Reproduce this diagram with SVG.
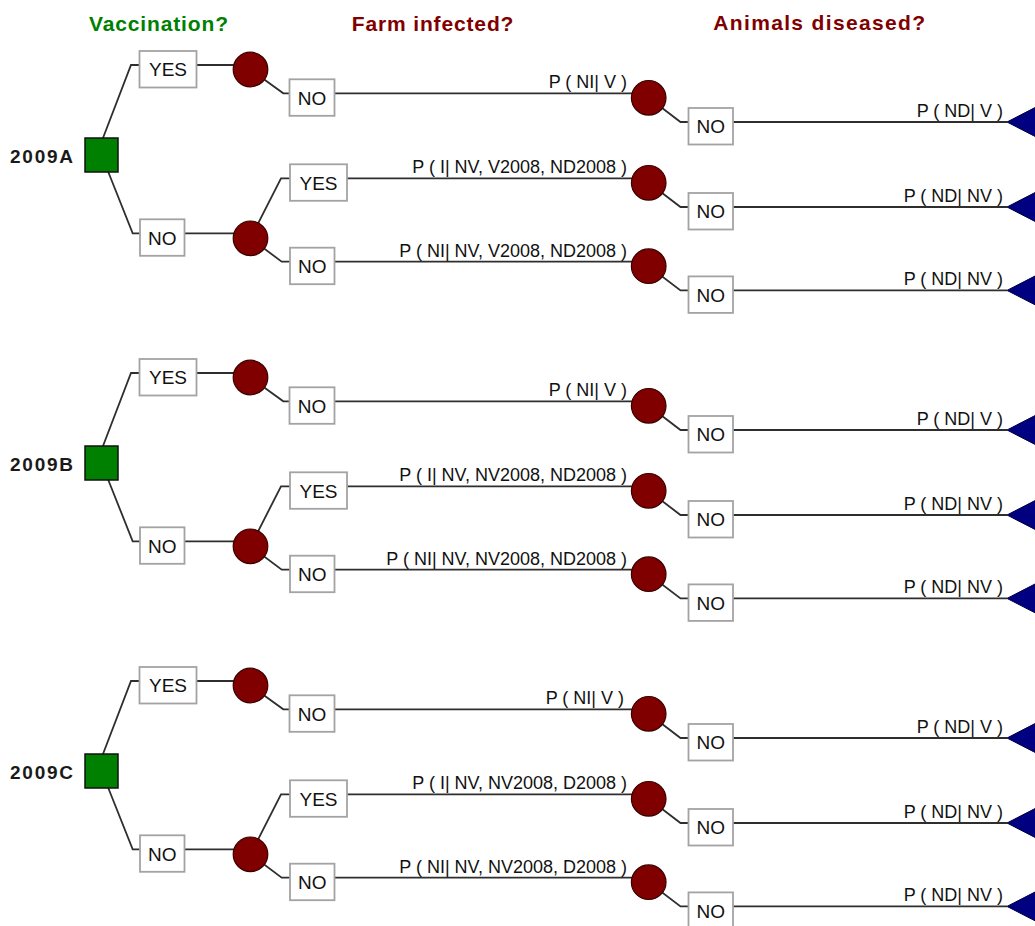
<svg xmlns="http://www.w3.org/2000/svg" width="1035" height="926" viewBox="0 0 1035 926">
<style>
.ln{fill:none;stroke:#2e2e2e;stroke-width:1.8}
.box{fill:#fff;stroke:#a3a3a3;stroke-width:1.8}
.bt{font-family:"Liberation Sans",Arial,sans-serif;font-size:19px;text-anchor:middle;fill:#111}
.pl{font-family:"Liberation Sans",Arial,sans-serif;font-size:18px;text-anchor:end;fill:#111}
.ch{fill:#800000;stroke:#3a0000;stroke-width:1.2}
.dec{fill:#008000;stroke:#111;stroke-width:1.5}
.term{fill:#000080;stroke:#000040;stroke-width:1}
.hd{font-family:"Liberation Sans",Arial,sans-serif;font-size:21px;font-weight:bold}
.yr{font-family:"Liberation Sans",Arial,sans-serif;font-size:19px;font-weight:bold;fill:#1a1a1a}
</style>
<defs>
<path id="cn" d="M103,138 L131,65 L139.5,65 M108.3,172 L132.7,233.3 L140,233.3 M196.5,65 L245,65 M250.5,69.5 L283.3,93.3 L289.5,93.3 M334.5,93.3 L645,93.3 M648.7,97.8 L680.5,122 L688.5,122 M733,122 L1007,122 M184.5,233.3 L245,233.3 M250.5,238.3 L281,178.3 L290,178.3 M250.5,238.3 L281.7,261.7 L290,261.7 M347,178.3 L645,178.3 M334.5,261.7 L645,261.7 M648.7,182.8 L680.5,207 L688.5,207 M733,207 L1007,207 M648.7,266.2 L680.5,290.4 L688.5,290.4 M733,290.4 L1007,290.4"/>
</defs>
<rect width="1035" height="926" fill="#fff"/>
<g id="headers">
<text class="hd" x="89" y="31" fill="#008000" textLength="139" lengthAdjust="spacing">Vaccination?</text>
<text class="hd" x="351.7" y="30.7" fill="#800000" textLength="161.7" lengthAdjust="spacing">Farm infected?</text>
<text class="hd" x="713.3" y="30" fill="#800000" textLength="211.7" lengthAdjust="spacing">Animals diseased?</text>
</g>
<g id="connectors">
<use href="#cn" class="ln"/>
<use href="#cn" class="ln" transform="translate(0,308)"/>
<use href="#cn" class="ln" transform="translate(0,616)"/>
</g>

<g id="blockA">
<g id="A-decision"><rect class="dec" x="85" y="138" width="33" height="34"/><text class="yr" x="10" y="163" textLength="63" lengthAdjust="spacing">2009A</text></g>
<g id="A-vacc-yes"><rect class="box" x="139.5" y="51" width="57" height="36.5"/><text class="bt" x="168" y="76.3">YES</text></g>
<g id="A-vacc-no"><rect class="box" x="140" y="219.3" width="44.5" height="36.5"/><text class="bt" x="162.25" y="244.6">NO</text></g>
<g id="A-chance1"><circle class="ch" cx="250.5" cy="69.5" r="17.3"/></g>
<g id="A-chance2"><circle class="ch" cx="250.5" cy="238.3" r="17.3"/></g>
<g id="A-inf-no1"><rect class="box" x="289.5" y="79.3" width="45" height="36.5"/><text class="bt" x="312" y="104.6">NO</text></g>
<g id="A-inf-yes2"><rect class="box" x="290" y="164.3" width="57" height="36.5"/><text class="bt" x="318.5" y="189.6">YES</text></g>
<g id="A-inf-no2"><rect class="box" x="290" y="247.7" width="44.5" height="36.5"/><text class="bt" x="312.25" y="273">NO</text></g>
<g id="A-p1"><text class="pl" x="627" y="88.3">P ( NI| V )</text></g>
<g id="A-p2"><text class="pl" x="627" y="173.3">P ( I| NV, V2008, ND2008 )</text></g>
<g id="A-p3"><text class="pl" x="627" y="256.7">P ( NI| NV, V2008, ND2008 )</text></g>
<g id="A-chance3"><circle class="ch" cx="648.7" cy="97.8" r="17.3"/></g>
<g id="A-chance4"><circle class="ch" cx="648.7" cy="182.8" r="17.3"/></g>
<g id="A-chance5"><circle class="ch" cx="648.7" cy="266.2" r="17.3"/></g>
<g id="A-dis-no1"><rect class="box" x="688.5" y="108" width="44.5" height="36.5"/><text class="bt" x="710.75" y="133.3">NO</text></g>
<g id="A-dis-no2"><rect class="box" x="688.5" y="193" width="44.5" height="36.5"/><text class="bt" x="710.75" y="218.3">NO</text></g>
<g id="A-dis-no3"><rect class="box" x="688.5" y="276.4" width="44.5" height="36.5"/><text class="bt" x="710.75" y="301.7">NO</text></g>
<g id="A-q1"><text class="pl" x="1003" y="116.7">P ( ND| V )</text></g>
<g id="A-q2"><text class="pl" x="1003" y="201.7">P ( ND| NV )</text></g>
<g id="A-q3"><text class="pl" x="1003" y="285">P ( ND| NV )</text></g>
<g id="A-term1"><polygon class="term" points="1007,122 1042,104 1042,140"/></g>
<g id="A-term2"><polygon class="term" points="1007,207 1042,189 1042,225"/></g>
<g id="A-term3"><polygon class="term" points="1007,290.4 1042,272.4 1042,308.4"/></g>
</g>

<g id="blockB" transform="translate(0,308)">
<g id="B-decision"><rect class="dec" x="85" y="138" width="33" height="34"/><text class="yr" x="10" y="163" textLength="63" lengthAdjust="spacing">2009B</text></g>
<g id="B-vacc-yes"><rect class="box" x="139.5" y="51" width="57" height="36.5"/><text class="bt" x="168" y="76.3">YES</text></g>
<g id="B-vacc-no"><rect class="box" x="140" y="219.3" width="44.5" height="36.5"/><text class="bt" x="162.25" y="244.6">NO</text></g>
<g id="B-chance1"><circle class="ch" cx="250.5" cy="69.5" r="17.3"/></g>
<g id="B-chance2"><circle class="ch" cx="250.5" cy="238.3" r="17.3"/></g>
<g id="B-inf-no1"><rect class="box" x="289.5" y="79.3" width="45" height="36.5"/><text class="bt" x="312" y="104.6">NO</text></g>
<g id="B-inf-yes2"><rect class="box" x="290" y="164.3" width="57" height="36.5"/><text class="bt" x="318.5" y="189.6">YES</text></g>
<g id="B-inf-no2"><rect class="box" x="290" y="247.7" width="44.5" height="36.5"/><text class="bt" x="312.25" y="273">NO</text></g>
<g id="B-p1"><text class="pl" x="627" y="88.3">P ( NI| V )</text></g>
<g id="B-p2"><text class="pl" x="627" y="173.3">P ( I| NV, NV2008, ND2008 )</text></g>
<g id="B-p3"><text class="pl" x="627" y="256.7">P ( NI| NV, NV2008, ND2008 )</text></g>
<g id="B-chance3"><circle class="ch" cx="648.7" cy="97.8" r="17.3"/></g>
<g id="B-chance4"><circle class="ch" cx="648.7" cy="182.8" r="17.3"/></g>
<g id="B-chance5"><circle class="ch" cx="648.7" cy="266.2" r="17.3"/></g>
<g id="B-dis-no1"><rect class="box" x="688.5" y="108" width="44.5" height="36.5"/><text class="bt" x="710.75" y="133.3">NO</text></g>
<g id="B-dis-no2"><rect class="box" x="688.5" y="193" width="44.5" height="36.5"/><text class="bt" x="710.75" y="218.3">NO</text></g>
<g id="B-dis-no3"><rect class="box" x="688.5" y="276.4" width="44.5" height="36.5"/><text class="bt" x="710.75" y="301.7">NO</text></g>
<g id="B-q1"><text class="pl" x="1003" y="116.7">P ( ND| V )</text></g>
<g id="B-q2"><text class="pl" x="1003" y="201.7">P ( ND| NV )</text></g>
<g id="B-q3"><text class="pl" x="1003" y="285">P ( ND| NV )</text></g>
<g id="B-term1"><polygon class="term" points="1007,122 1042,104 1042,140"/></g>
<g id="B-term2"><polygon class="term" points="1007,207 1042,189 1042,225"/></g>
<g id="B-term3"><polygon class="term" points="1007,290.4 1042,272.4 1042,308.4"/></g>
</g>

<g id="blockC" transform="translate(0,616)">
<g id="C-decision"><rect class="dec" x="85" y="138" width="33" height="34"/><text class="yr" x="10" y="163" textLength="63" lengthAdjust="spacing">2009C</text></g>
<g id="C-vacc-yes"><rect class="box" x="139.5" y="51" width="57" height="36.5"/><text class="bt" x="168" y="76.3">YES</text></g>
<g id="C-vacc-no"><rect class="box" x="140" y="219.3" width="44.5" height="36.5"/><text class="bt" x="162.25" y="244.6">NO</text></g>
<g id="C-chance1"><circle class="ch" cx="250.5" cy="69.5" r="17.3"/></g>
<g id="C-chance2"><circle class="ch" cx="250.5" cy="238.3" r="17.3"/></g>
<g id="C-inf-no1"><rect class="box" x="289.5" y="79.3" width="45" height="36.5"/><text class="bt" x="312" y="104.6">NO</text></g>
<g id="C-inf-yes2"><rect class="box" x="290" y="164.3" width="57" height="36.5"/><text class="bt" x="318.5" y="189.6">YES</text></g>
<g id="C-inf-no2"><rect class="box" x="290" y="247.7" width="44.5" height="36.5"/><text class="bt" x="312.25" y="273">NO</text></g>
<g id="C-p1"><text class="pl" x="624" y="88.3">P ( NI| V )</text></g>
<g id="C-p2"><text class="pl" x="627" y="173.3">P ( I| NV, NV2008, D2008 )</text></g>
<g id="C-p3"><text class="pl" x="627" y="256.7">P ( NI| NV, NV2008, D2008 )</text></g>
<g id="C-chance3"><circle class="ch" cx="648.7" cy="97.8" r="17.3"/></g>
<g id="C-chance4"><circle class="ch" cx="648.7" cy="182.8" r="17.3"/></g>
<g id="C-chance5"><circle class="ch" cx="648.7" cy="266.2" r="17.3"/></g>
<g id="C-dis-no1"><rect class="box" x="688.5" y="108" width="44.5" height="36.5"/><text class="bt" x="710.75" y="133.3">NO</text></g>
<g id="C-dis-no2"><rect class="box" x="688.5" y="193" width="44.5" height="36.5"/><text class="bt" x="710.75" y="218.3">NO</text></g>
<g id="C-dis-no3"><rect class="box" x="688.5" y="276.4" width="44.5" height="36.5"/><text class="bt" x="710.75" y="301.7">NO</text></g>
<g id="C-q1"><text class="pl" x="1003" y="116.7">P ( ND| V )</text></g>
<g id="C-q2"><text class="pl" x="1003" y="201.7">P ( ND| NV )</text></g>
<g id="C-q3"><text class="pl" x="1003" y="285">P ( ND| NV )</text></g>
<g id="C-term1"><polygon class="term" points="1007,122 1042,104 1042,140"/></g>
<g id="C-term2"><polygon class="term" points="1007,207 1042,189 1042,225"/></g>
<g id="C-term3"><polygon class="term" points="1007,290.4 1042,272.4 1042,308.4"/></g>
</g>
</svg>
